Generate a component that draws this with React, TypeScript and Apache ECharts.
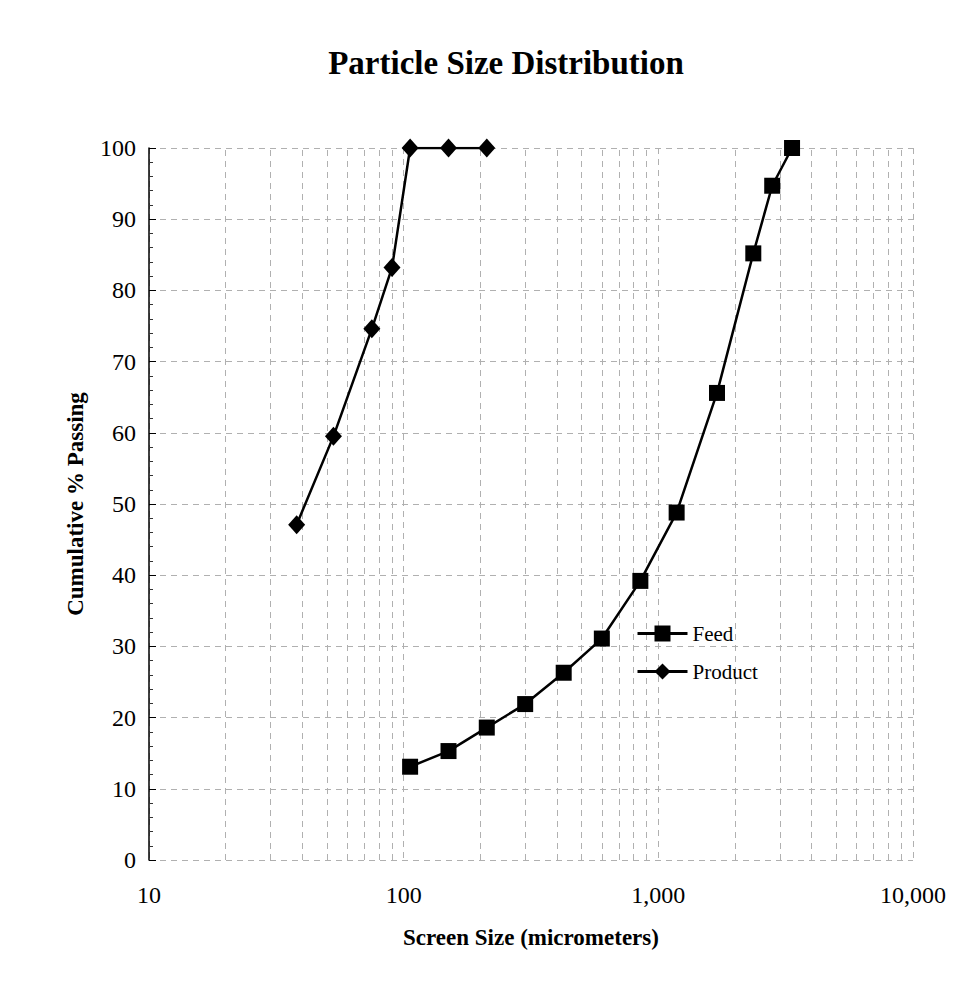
import React, { useEffect, useRef } from "react";
import * as echarts from "echarts";

// Screen sizes (micrometers) and cumulative % passing
const feedSize = [106, 150, 212, 300, 425, 600, 850, 1180, 1700, 2360, 2800, 3350];
const feedPassing = [13.1, 15.3, 18.6, 21.9, 26.3, 31.1, 39.2, 48.8, 65.6, 85.2, 94.7, 100];
const productSize = [38, 53, 75, 90, 106, 150, 212];
const productPassing = [47.1, 59.5, 74.6, 83.2, 100, 100, 100];

// Minor vertical grid values on the log axis
const minorGridSizes = [
  20, 30, 40, 50, 60, 70, 80, 90,
  200, 300, 400, 500, 600, 700, 800, 900,
  2000, 3000, 4000, 5000, 6000, 7000, 8000, 9000,
];

const FONT = "'Liberation Serif', 'Times New Roman', serif";
const GRID_COLOR = "#b0b0b0";

export default function App() {
  const ref = useRef<HTMLDivElement>(null);

  useEffect(() => {
    if (!ref.current) return;
    const chart = echarts.init(ref.current, null, { renderer: "svg" });
    const pairs = (xs: number[], ys: number[]) => xs.map((x, i) => [x, ys[i]]);

    chart.setOption({
      animation: false,
      backgroundColor: "#ffffff",
      textStyle: { fontFamily: FONT, color: "#000" },
      title: {
        text: "Particle Size Distribution",
        left: 501,
        top: 41,
        textAlign: "center",
        textStyle: { fontFamily: FONT, fontSize: 33, fontWeight: "bold", color: "#000" },
      },
      legend: {
        left: 631,
        top: 618,
        orient: "vertical",
        itemWidth: 50,
        itemHeight: 20,
        itemGap: 17,
        lineStyle: { width: 3, color: "#000" },
        textStyle: { fontFamily: FONT, fontSize: 21, color: "#000", lineHeight: 21 },
        data: ["Feed", "Product"],
      },
      grid: { left: 149, right: 67, top: 148, bottom: 139, containLabel: false },
      xAxis: {
        type: "log",
        logBase: 10,
        min: 10,
        max: 10000,
        name: "Screen Size (micrometers)",
        nameLocation: "middle",
        nameGap: 66,
        nameTextStyle: { fontFamily: FONT, fontSize: 23, fontWeight: "bold", color: "#000" },
        axisLine: { show: false },
        axisTick: { show: false },
        axisLabel: {
          fontFamily: FONT,
          fontSize: 24,
          color: "#000",
          margin: 23,
          formatter: (v: number) => Math.round(v).toLocaleString("en-US"),
        },
        splitLine: { show: true, lineStyle: { color: GRID_COLOR, type: [6, 5], width: 1 } },
      },
      yAxis: {
        type: "value",
        min: 0,
        max: 100,
        interval: 10,
        name: "Cumulative % Passing",
        nameLocation: "middle",
        nameGap: 62,
        nameTextStyle: { fontFamily: FONT, fontSize: 23, fontWeight: "bold", color: "#000" },
        axisLine: { show: true, lineStyle: { color: "#000", width: 1.5 } },
        axisTick: { show: true, inside: true, length: 7, lineStyle: { color: "#000" } },
        minorTick: { show: true, splitNumber: 5, length: 4, lineStyle: { color: "#333" } },
        axisLabel: { fontFamily: FONT, fontSize: 24, color: "#000", margin: 13 },
        splitLine: { show: true, lineStyle: { color: GRID_COLOR, type: [6, 5], width: 1 } },
      },
      series: [
        {
          name: "Feed",
          type: "line",
          data: pairs(feedSize, feedPassing),
          symbol: "rect",
          symbolSize: 16,
          itemStyle: { color: "#000" },
          lineStyle: { color: "#000", width: 2.5 },
          z: 5,
          markLine: {
            silent: true,
            symbol: "none",
            label: { show: false },
            lineStyle: { color: GRID_COLOR, type: [6, 5], width: 1 },
            data: minorGridSizes.map((v) => ({ xAxis: v })),
            z: 1,
          },
        },
        {
          name: "Product",
          type: "line",
          data: pairs(productSize, productPassing),
          symbol: "diamond",
          symbolSize: [17, 19],
          itemStyle: { color: "#000" },
          lineStyle: { color: "#000", width: 2.5 },
          z: 5,
        },
      ],
    });

    return () => chart.dispose();
  }, []);

  return (
    <div
      ref={ref}
      style={{ position: "fixed", left: 0, top: 0, width: 980, height: 999, background: "#fff" }}
    />
  );
}
